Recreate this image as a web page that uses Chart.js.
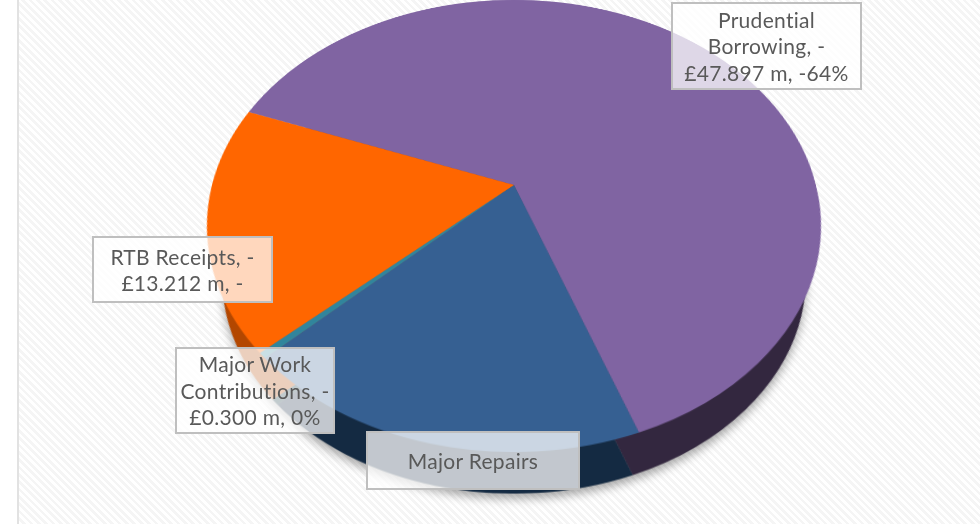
<!DOCTYPE html>
<html>
<head>
<meta charset="utf-8">
<title>Capital financing</title>
<script src="https://cdn.jsdelivr.net/npm/chart.js@4/dist/chart.umd.min.js"></script>
<style>
    html, body { margin: 0; padding: 0; }
    body {
        width: 980px;
        height: 524px;
        position: relative;
        overflow: hidden;
        background: #fff;
        font-family: Lato, sans-serif;
    }
    #slide {
        position: absolute;
        left: 17px; top: 0; right: 0; bottom: 0;
        border-left: 2px solid #e2e2e2;
        background: repeating-linear-gradient(45deg, #fff 0 2.6px, #f5f5f5 2.6px 5.2px);
    }
    .layer {
        position: absolute;
        left: 212px;
        top: -117px;
        transform-origin: 302px 302px;
    }
    #rimShadow { position: absolute; inset: 0; filter: drop-shadow(0 5px 5px rgba(0, 0, 0, 0.34)); }
    #rimLayer { transform: translateY(55px) scale(0.95) perspective(1149px) rotateX(43.6deg); }
    #topLayer { transform: perspective(1149px) rotateX(43.6deg); }
    .tag {
        position: absolute;
        box-sizing: border-box;
        display: flex;
        flex-direction: column;
        justify-content: center;
        border: 2px solid #bfbfbf;
        background: rgba(255, 255, 255, 0.74);
        color: #595959;
        font-size: 21px;
        letter-spacing: 0.3px;
        line-height: 26.5px;
        padding-top: 1px;
        text-align: center;
        white-space: nowrap;
    }
</style>
</head>
<body>
<div id="slide"></div>
<div id="rimShadow"><div class="layer" id="rimLayer"><canvas id="rimChart" width="604" height="604"></canvas></div></div>
<div class="layer" id="topLayer"><canvas id="topChart" width="604" height="604"></canvas></div>
<div id="tags"></div>
<script>
// Capital financing, £m (going clockwise from the purple wedge)
const categories = ['Prudential Borrowing', 'Major Repairs', 'Major Work Contributions', 'RTB Receipts'];
const values = [-47.897, -13.85, -0.300, -13.212];
const topColours = ['#8064a2', '#366092', '#31859c', '#ff6600'];
const rimColours = ['#33273f', '#142a42', '#123640', '#b34700'];

const tagLines = [
    ['Prudential', 'Borrowing, -', '£47.897 m, -64%'],
    ['Major Repairs'],
    ['Major Work', 'Contributions, -', '£0.300 m, 0%'],
    ['RTB Receipts, -', '£13.212 m, -']
];
const tagBoxes = [
    { left: 671, top: 2, width: 191, height: 88 },
    { left: 366, top: 431, width: 214, height: 59 },
    { left: 175, top: 347, width: 160, height: 87 },
    { left: 92, top: 236, width: 181, height: 67 }
];

const startAngle = 290.8;

function drawPie(id, colours) {
    return new Chart(document.getElementById(id), {
        type: 'pie',
        data: {
            labels: categories,
            datasets: [{ data: values, backgroundColor: colours, borderWidth: 0 }]
        },
        options: {
            responsive: false,
            animation: false,
            devicePixelRatio: 2,
            rotation: startAngle,
            plugins: { legend: { display: false }, tooltip: { enabled: false } }
        }
    });
}

drawPie('rimChart', rimColours);
drawPie('topChart', topColours);

const tags = document.getElementById('tags');
tagLines.forEach((lines, i) => {
    const tag = document.createElement('div');
    tag.className = 'tag';
    const box = tagBoxes[i];
    tag.style.left = box.left + 'px';
    tag.style.top = box.top + 'px';
    tag.style.width = box.width + 'px';
    tag.style.height = box.height + 'px';
    lines.forEach(line => {
        const row = document.createElement('div');
        row.textContent = line;
        tag.appendChild(row);
    });
    tags.appendChild(tag);
});
</script>
</body>
</html>
